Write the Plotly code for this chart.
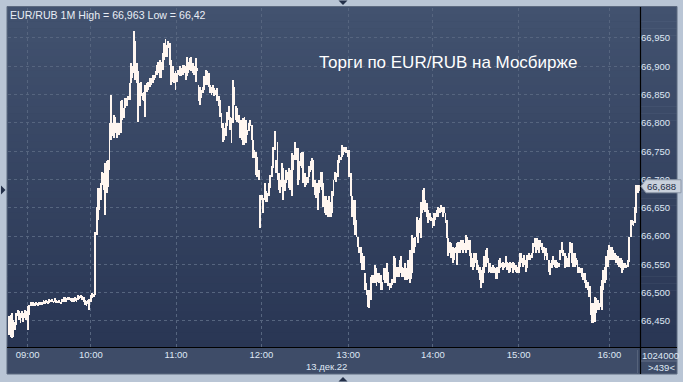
import plotly.graph_objects as go

# ---------------- data ----------------
high = [
    66.458, 66.461, 66.464, 66.452, 66.449, 66.464, 66.470, 66.467, 66.464, 66.467,
    66.464, 66.470, 66.467, 66.476, 66.478, 66.484, 66.483,
    66.483, 66.481, 66.483, 66.481, 66.484, 66.483, 66.484, 66.487, 66.486, 66.487,
    66.486, 66.488, 66.487, 66.488, 66.486, 66.490, 66.487, 66.486, 66.487, 66.484,
    66.488, 66.493, 66.492, 66.490, 66.493, 66.493, 66.491, 66.490, 66.490, 66.492,
    66.490, 66.496, 66.494, 66.496, 66.494, 66.493, 66.487, 66.486, 66.487, 66.488,
    66.496, 66.499, 66.498,
    66.608, 66.652, 66.685, 66.685, 66.693, 66.714, 66.711, 66.729, 66.732, 66.735,
    66.799, 66.850, 66.799, 66.814, 66.811, 66.799, 66.799, 66.799, 66.838, 66.841,
    66.826, 66.844, 66.844, 66.847, 66.870, 66.905, 66.900, 66.963, 66.944, 66.905,
    66.891, 66.870, 66.873, 66.852, 66.855, 66.867, 66.870, 66.873, 66.879, 66.879,
    66.885, 66.885, 66.891, 66.902, 66.908,
    66.911, 66.908, 66.923, 66.941, 66.948, 66.938, 66.944, 66.941, 66.911, 66.900,
    66.888, 66.891, 66.888, 66.894, 66.900, 66.897, 66.902, 66.902, 66.900, 66.917,
    66.908, 66.914, 66.917, 66.905, 66.900, 66.914, 66.897, 66.867, 66.864, 66.858,
    66.864, 66.882, 66.894, 66.891, 66.888, 66.867, 66.864, 66.867, 66.861, 66.858,
    66.861, 66.847, 66.841, 66.817, 66.799, 66.791, 66.799, 66.820, 66.829, 66.811,
    66.808, 66.876, 66.864, 66.829, 66.826, 66.814, 66.805, 66.805, 66.808, 66.811,
    66.805, 66.788, 66.799, 66.805, 66.796, 66.770, 66.752, 66.749, 66.740, 66.717,
    66.673, 66.673, 66.667, 66.693, 66.679, 66.676, 66.693, 66.708, 66.723, 66.758,
    66.785, 66.735, 66.767, 66.711, 66.699, 66.729, 66.720, 66.699, 66.717, 66.714,
    66.720, 66.717, 66.746, 66.743, 66.767, 66.755, 66.755, 66.732, 66.746, 66.749,
    66.749, 66.711, 66.705, 66.705, 66.723, 66.732, 66.738, 66.735, 66.699, 66.693,
    66.693,
    66.699, 66.714, 66.714, 66.693, 66.670, 66.670, 66.664, 66.670, 66.661, 66.679,
    66.699, 66.714, 66.711, 66.735, 66.743, 66.740, 66.761, 66.758, 66.758, 66.758,
    66.752, 66.752, 66.711, 66.670, 66.664, 66.664, 66.629, 66.599, 66.581, 66.581,
    66.570, 66.564, 66.534, 66.517, 66.505, 66.505, 66.528, 66.531, 66.531, 66.549,
    66.543, 66.534, 66.534, 66.531, 66.519, 66.543, 66.543, 66.552, 66.537, 66.517,
    66.517, 66.525, 66.564, 66.561, 66.546, 66.546, 66.558, 66.564, 66.546, 66.543,
    66.552, 66.543, 66.558, 66.576, 66.546, 66.602, 66.596, 66.599, 66.634, 66.629,
    66.632, 66.661, 66.682, 66.685, 66.664, 66.658, 66.646, 66.640, 66.634, 66.632,
    66.640, 66.640, 66.646, 66.652, 66.649, 66.655, 66.652, 66.652, 66.640, 66.629,
    66.596, 66.590, 66.587, 66.581, 66.579, 66.581, 66.587, 66.590, 66.590, 66.593,
    66.593, 66.587, 66.602, 66.599, 66.593, 66.593, 66.570, 66.561, 66.570, 66.570,
    66.558, 66.549, 66.546, 66.540, 66.546, 66.564, 66.576, 66.579, 66.561, 66.552,
    66.546, 66.549, 66.546, 66.543, 66.546, 66.558, 66.561, 66.552, 66.555, 66.552,
    66.564, 66.555, 66.552, 66.555, 66.552, 66.555, 66.552, 66.549, 66.546, 66.555,
    66.570, 66.570, 66.561, 66.567, 66.558, 66.567, 66.570, 66.567, 66.570, 66.587,
    66.596, 66.596, 66.596, 66.593, 66.593, 66.587, 66.581, 66.581, 66.579, 66.570,
    66.558, 66.552, 66.558, 66.564, 66.558, 66.558, 66.555, 66.552, 66.576, 66.590,
    66.576, 66.570, 66.564, 66.561, 66.570, 66.590, 66.587, 66.570, 66.570, 66.561,
    66.558, 66.546, 66.543, 66.543, 66.534, 66.534, 66.522, 66.519, 66.511, 66.511,
    66.481, 66.481, 66.493, 66.490, 66.487, 66.481, 66.511, 66.522, 66.540, 66.546,
    66.564, 66.576, 66.584, 66.581, 66.581, 66.576, 66.570, 66.567, 66.564, 66.561,
    66.561, 66.558, 66.552, 66.552, 66.549, 66.558, 66.599, 66.629, 66.629, 66.626,
    66.652, 66.690, 66.690, 66.690,
]
low = [
    66.425, 66.422, 66.420, 66.422, 66.434, 66.443, 66.458, 66.452, 66.446, 66.455,
    66.449, 66.455, 66.452, 66.434, 66.461, 66.476, 66.476,
    66.477, 66.477, 66.478, 66.477, 66.478, 66.478, 66.478, 66.480, 66.480, 66.481,
    66.480, 66.481, 66.483, 66.483, 66.481, 66.484, 66.481, 66.481, 66.481, 66.480,
    66.483, 66.484, 66.486, 66.484, 66.487, 66.487, 66.486, 66.484, 66.484, 66.486,
    66.484, 66.487, 66.488, 66.490, 66.487, 66.484, 66.478, 66.477, 66.480, 66.470,
    66.484, 66.490, 66.492,
    66.496, 66.602, 66.629, 66.646, 66.664, 66.690, 66.682, 66.637, 66.676, 66.687,
    66.717, 66.770, 66.776, 66.773, 66.782, 66.773, 66.779, 66.779, 66.782, 66.805,
    66.808, 66.826, 66.829, 66.841, 66.841, 66.870, 66.879, 66.888, 66.876, 66.870,
    66.802, 66.829, 66.847, 66.841, 66.838, 66.811, 66.855, 66.858, 66.864, 66.867,
    66.870, 66.876, 66.879, 66.885, 66.888,
    66.879, 66.879, 66.894, 66.911, 66.917, 66.917, 66.932, 66.902, 66.867, 66.873,
    66.870, 66.858, 66.873, 66.885, 66.882, 66.882, 66.885, 66.888, 66.876, 66.882,
    66.888, 66.894, 66.891, 66.888, 66.885, 66.873, 66.891, 66.838, 66.832, 66.844,
    66.852, 66.858, 66.867, 66.867, 66.864, 66.852, 66.849, 66.852, 66.847, 66.849,
    66.838, 66.829, 66.811, 66.791, 66.767, 66.770, 66.776, 66.794, 66.805, 66.788,
    66.764, 66.799, 66.832, 66.805, 66.802, 66.799, 66.773, 66.770, 66.761, 66.761,
    66.764, 66.779, 66.785, 66.794, 66.770, 66.738, 66.738, 66.708, 66.705, 66.699,
    66.614, 66.664, 66.640, 66.664, 66.661, 66.661, 66.670, 66.685, 66.705, 66.720,
    66.752, 66.711, 66.699, 66.682, 66.676, 66.687, 66.664, 66.679, 66.693, 66.699,
    66.685, 66.682, 66.670, 66.717, 66.735, 66.735, 66.690, 66.699, 66.723, 66.720,
    66.693, 66.687, 66.690, 66.693, 66.705, 66.714, 66.717, 66.687, 66.673, 66.667,
    66.646,
    66.676, 66.687, 66.682, 66.652, 66.640, 66.637, 66.634, 66.634, 66.634, 66.640,
    66.670, 66.699, 66.696, 66.705, 66.729, 66.735, 66.740, 66.743, 66.749, 66.746,
    66.740, 66.705, 66.670, 66.634, 66.620, 66.602, 66.599, 66.581, 66.570, 66.552,
    66.540, 66.540, 66.505, 66.496, 66.475, 66.473, 66.487, 66.517, 66.517, 66.517,
    66.511, 66.519, 66.517, 66.505, 66.505, 66.522, 66.517, 66.517, 66.511, 66.505,
    66.508, 66.514, 66.517, 66.517, 66.528, 66.528, 66.528, 66.534, 66.528, 66.528,
    66.522, 66.522, 66.525, 66.517, 66.525, 66.534, 66.570, 66.581, 66.599, 66.587,
    66.605, 66.596, 66.640, 66.646, 66.643, 66.634, 66.623, 66.629, 66.626, 66.614,
    66.617, 66.629, 66.634, 66.634, 66.640, 66.643, 66.634, 66.640, 66.623, 66.596,
    66.564, 66.570, 66.561, 66.552, 66.558, 66.570, 66.549, 66.570, 66.570, 66.576,
    66.570, 66.576, 66.570, 66.581, 66.576, 66.564, 66.546, 66.540, 66.546, 66.552,
    66.540, 66.534, 66.522, 66.508, 66.517, 66.534, 66.546, 66.552, 66.534, 66.537,
    66.534, 66.534, 66.534, 66.525, 66.525, 66.534, 66.543, 66.546, 66.540, 66.543,
    66.546, 66.540, 66.534, 66.537, 66.543, 66.534, 66.540, 66.537, 66.534, 66.534,
    66.546, 66.552, 66.546, 66.549, 66.537, 66.543, 66.558, 66.558, 66.561, 66.570,
    66.581, 66.570, 66.576, 66.570, 66.581, 66.576, 66.570, 66.558, 66.564, 66.558,
    66.537, 66.531, 66.543, 66.549, 66.546, 66.543, 66.543, 66.546, 66.558, 66.570,
    66.564, 66.543, 66.546, 66.546, 66.546, 66.570, 66.552, 66.546, 66.546, 66.549,
    66.534, 66.534, 66.534, 66.528, 66.522, 66.517, 66.508, 66.505, 66.493, 66.461,
    66.446, 66.446, 66.449, 66.464, 66.470, 66.470, 66.475, 66.470, 66.505, 66.517,
    66.522, 66.546, 66.558, 66.558, 66.570, 66.558, 66.558, 66.552, 66.549, 66.546,
    66.543, 66.534, 66.540, 66.543, 66.543, 66.546, 66.555, 66.599, 66.620, 66.617,
    66.623, 66.640, 66.676, 66.679,
]
hour_ticks = [13, 57, 116.4, 175.8, 236.3, 295.2, 355, 418.2]   # bar index where each hour starts
hour_labels = ["09:00", "10:00", "11:00", "12:00", "13:00", "14:00", "15:00", "16:00"]
price_ticks = [66.45, 66.50, 66.55, 66.60, 66.65, 66.70, 66.75, 66.80, 66.85, 66.90, 66.95]
last_close = 66.688
session_high = 66.963
session_low = 66.42
date_label = "13.дек.22"
volume_label = "1024000"
bars_label = ">439<"
caption = "Торги по EUR/RUB на Мосбирже"

assert len(high) == len(low)

# ---------------- geometry helpers (pixel -> paper) ----------------
W, H = 683, 382
L, R, T, B = 8, 43, 8, 35
PW, PH = W - L - R, H - T - B


def px(xp):
    return (xp - L) / PW


def py(yp):
    return 1 - (yp - T) / PH


FONT = "Liberation Sans, Arial, sans-serif"
idx = list(range(len(high)))
span = [h - l for h, l in zip(high, low)]

fig = go.Figure()
fig.add_trace(go.Bar(
    x=idx, y=span, base=low, width=0.62,
    marker=dict(color="#fff6f0", line=dict(width=0)),
    hoverinfo="skip",
))

shapes = []
# vertical gradient background (plot + right price column)
N = 48
top_c, bot_c = (66, 82, 111), (41, 54, 84)
y_top, y_bot = 7, 347
for i in range(N):
    t = i / (N - 1)
    c = tuple(round(a + (b - a) * t) for a, b in zip(top_c, bot_c))
    ya = y_top + (y_bot - y_top) * i / N
    yb = y_top + (y_bot - y_top) * (i + 1) / N
    shapes.append(dict(type="rect", xref="paper", yref="paper", layer="below",
                       x0=px(7), x1=px(677), y0=py(yb + 0.5), y1=py(ya),
                       fillcolor="rgb(%d,%d,%d)" % c, line=dict(width=0)))
# bottom time band
shapes.append(dict(type="rect", xref="paper", yref="paper", layer="below",
                   x0=px(7), x1=px(677), y0=py(374), y1=py(347),
                   fillcolor="#3e4c68", line=dict(width=0)))
# outer thin frame
shapes.append(dict(type="rect", xref="paper", yref="paper", layer="above",
                   x0=px(7), x1=px(677), y0=py(374), y1=py(6.5),
                   fillcolor="rgba(0,0,0,0)", line=dict(width=1, color="#5d6a80")))
# black axis lines
shapes.append(dict(type="line", xref="paper", yref="paper", layer="above",
                   x0=px(640.5), x1=px(640.5), y0=py(374), y1=py(7),
                   line=dict(width=1.2, color="#000000")))
shapes.append(dict(type="line", xref="paper", yref="paper", layer="above",
                   x0=px(7), x1=px(677), y0=py(347.5), y1=py(347.5),
                   line=dict(width=1.2, color="#000000")))
# separators in bottom band / price column
shapes.append(dict(type="line", xref="paper", yref="paper", layer="above",
                   x0=px(637.5), x1=px(637.5), y0=py(373), y1=py(350),
                   line=dict(width=1, color="#56637b")))
shapes.append(dict(type="line", xref="paper", yref="paper", layer="above",
                   x0=px(641), x1=px(677), y0=py(361), y1=py(361),
                   line=dict(width=1, color="#66728a")))
# last price marker box with pointer
hh = 6.5 * (0.599 / PH)
shapes.append(dict(type="path", xref="paper", yref="y", layer="above",
                   path="M %f,%f L %f,%f L %f,%f L %f,%f L %f,%f Z" % (
                       px(641), last_close,
                       px(646), last_close + hh,
                       px(681), last_close + hh,
                       px(681), last_close - hh,
                       px(646), last_close - hh),
                   fillcolor="#c9d1dc", line=dict(width=1, color="#8e99aa")))
# small UI triangles
tri = "#243049"
shapes.append(dict(type="path", xref="paper", yref="paper", layer="above",
                   path="M %f,%f L %f,%f L %f,%f Z" % (px(338.5), py(0.5), px(347.5), py(0.5), px(343), py(5)),
                   fillcolor=tri, line=dict(width=0)))
shapes.append(dict(type="path", xref="paper", yref="paper", layer="above",
                   path="M %f,%f L %f,%f L %f,%f Z" % (px(338.5), py(381.5), px(347.5), py(381.5), px(343), py(377)),
                   fillcolor=tri, line=dict(width=0)))
shapes.append(dict(type="path", xref="paper", yref="paper", layer="above",
                   path="M %f,%f L %f,%f L %f,%f Z" % (px(1), py(185.5), px(1), py(194.5), px(5.5), py(190)),
                   fillcolor=tri, line=dict(width=0)))

annotations = [
    dict(text="EUR/RUB 1M High = %s Low = %s" % (f"{session_high:.3f}".replace(".", ","),
                                                   f"{session_low:.2f}".replace(".", ",")),
         xref="paper", yref="paper", x=px(8), y=py(15), xanchor="left", yanchor="middle",
         showarrow=False, font=dict(family=FONT, size=10.6, color="#e8edf5")),
    dict(text=caption, xref="paper", yref="paper", x=px(579), y=py(62),
         xanchor="right", yanchor="middle", showarrow=False,
         font=dict(family=FONT, size=17, color="#ffffff")),
    dict(text=f"{last_close:.3f}".replace(".", ","), xref="paper", yref="y",
         x=px(645), y=last_close, xanchor="left", yanchor="middle", showarrow=False,
         font=dict(family=FONT, size=9.5, color="#1e2b45")),
    dict(text=date_label, xref="paper", yref="paper", x=px(326), y=py(366),
         xanchor="center", yanchor="middle", showarrow=False,
         font=dict(family=FONT, size=9.5, color="#dfe7f4")),
    dict(text=volume_label, xref="paper", yref="paper", x=px(660), y=py(355),
         xanchor="center", yanchor="middle", showarrow=False,
         font=dict(family=FONT, size=9.5, color="#dfe7f4")),
    dict(text=bars_label, xref="paper", yref="paper", x=px(661), y=py(367.5),
         xanchor="center", yanchor="middle", showarrow=False,
         font=dict(family=FONT, size=9.5, color="#dfe7f4")),
]

grid = "#56657f"
fig.update_layout(
    width=W, height=H,
    margin=dict(l=L, r=R, t=T, b=B, pad=0),
    paper_bgcolor="#b9c5d5",
    plot_bgcolor="#34425f",
    showlegend=False,
    separators=", ",
    bargap=0,
    shapes=shapes,
    annotations=annotations,
    hovermode=False,
    xaxis=dict(
        range=[-0.7, len(high) - 0.5],
        tickmode="array", tickvals=hour_ticks, ticktext=hour_labels,
        showgrid=True, gridcolor=grid, griddash="3px,3px", gridwidth=1,
        zeroline=False, showline=False, ticks="",
        tickfont=dict(family=FONT, size=9.5, color="#dfe7f4"),
        fixedrange=True,
    ),
    yaxis=dict(
        side="right",
        range=[66.404, 67.003],
        tickmode="array", tickvals=price_ticks, tickformat=".3f",
        showgrid=True, gridcolor=grid, griddash="3px,3px", gridwidth=1,
        zeroline=False, showline=False, ticks="",
        tickfont=dict(family=FONT, size=9.5, color="#dfe7f4"),
        fixedrange=True,
    ),
)

fig.write_html(
    "out.html",
    config={"displayModeBar": False},
    post_script="document.body.style.margin='0px';document.body.style.overflow='hidden';",
)
